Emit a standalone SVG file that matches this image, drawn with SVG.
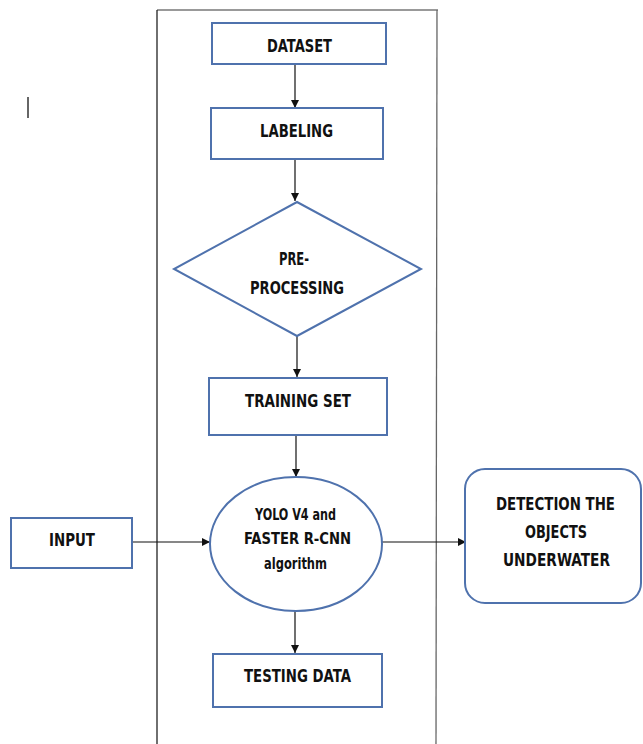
<svg xmlns="http://www.w3.org/2000/svg" width="643" height="744" viewBox="0 0 643 744">
<style>
.box{fill:#fff;stroke:#4f72ad;stroke-width:2}
.t{font-family:"Liberation Sans Narrow","DejaVu Sans Condensed","Liberation Sans",sans-serif;font-weight:bold;font-size:18px;fill:#111;text-anchor:middle;dominant-baseline:central}
.t2{font-size:16px}
.c{stroke:#111;stroke-width:1.2;fill:none;marker-end:url(#ah)}
</style>
<defs>
<marker id="ah" viewBox="0 0 10 10" refX="10" refY="5" markerWidth="8" markerHeight="8" markerUnits="userSpaceOnUse" orient="auto">
<path d="M0,0 L10,5 L0,10 z" fill="#111"/>
</marker>
</defs>
<rect width="643" height="744" fill="#fff"/>
<g id="frame">
<line x1="157" y1="10" x2="438" y2="10" stroke="#777" stroke-width="1.5"/>
<line x1="157" y1="10" x2="157" y2="744" stroke="#222" stroke-width="1.3"/>
<line x1="437" y1="10" x2="436" y2="744" stroke="#666" stroke-width="1.3"/>
<line x1="28" y1="97" x2="28" y2="118" stroke="#333" stroke-width="1.5"/>
</g>
<g id="connectors">
<line class="c" x1="295" y1="64" x2="295" y2="108"/>
<line class="c" x1="295" y1="159" x2="295" y2="201"/>
<line class="c" x1="297" y1="336" x2="297" y2="377"/>
<line class="c" x1="296" y1="435" x2="296" y2="477"/>
<line class="c" x1="132" y1="542" x2="210" y2="542"/>
<line class="c" x1="381" y1="542" x2="466" y2="542"/>
<line class="c" x1="295" y1="611" x2="295" y2="653"/>
</g>
<g id="dataset">
<rect class="box" x="212" y="23" width="174" height="41"/>
<text class="t" x="299.5" y="45" textLength="65" lengthAdjust="spacingAndGlyphs">DATASET</text>
</g>
<g id="labeling">
<rect class="box" x="211" y="108" width="172" height="51"/>
<text class="t" x="296.5" y="130" textLength="73" lengthAdjust="spacingAndGlyphs">LABELING</text>
</g>
<g id="preprocessing">
<polygon class="box" points="297,202 421,269 297,336 174,269"/>
<text class="t" x="294" y="258" textLength="30" lengthAdjust="spacingAndGlyphs">PRE-</text>
<text class="t" x="297" y="287" textLength="94" lengthAdjust="spacingAndGlyphs">PROCESSING</text>
</g>
<g id="training">
<rect class="box" x="209" y="378" width="178" height="57"/>
<text class="t" x="298" y="400" textLength="106" lengthAdjust="spacingAndGlyphs">TRAINING SET</text>
</g>
<g id="yolo">
<ellipse class="box" cx="296" cy="544" rx="86" ry="67"/>
<text class="t t2" x="295.5" y="514" textLength="81" lengthAdjust="spacingAndGlyphs">YOLO V4 and</text>
<text class="t t2" x="297.5" y="538" textLength="107" lengthAdjust="spacingAndGlyphs">FASTER R-CNN</text>
<text class="t t2" x="295.5" y="563" textLength="63" lengthAdjust="spacingAndGlyphs">algorithm</text>
</g>
<g id="input">
<rect class="box" x="11" y="518" width="121" height="50"/>
<text class="t" x="72" y="539" textLength="46" lengthAdjust="spacingAndGlyphs">INPUT</text>
</g>
<g id="detection">
<rect class="box" x="465" y="469" width="176" height="134" rx="20"/>
<text class="t" x="555.5" y="503" textLength="119" lengthAdjust="spacingAndGlyphs">DETECTION THE</text>
<text class="t" x="556" y="531" textLength="62" lengthAdjust="spacingAndGlyphs">OBJECTS</text>
<text class="t" x="556.5" y="559" textLength="107" lengthAdjust="spacingAndGlyphs">UNDERWATER</text>
</g>
<g id="testing">
<rect class="box" x="213" y="654" width="169" height="53"/>
<text class="t" x="297.5" y="675" textLength="107" lengthAdjust="spacingAndGlyphs">TESTING DATA</text>
</g>
</svg>
